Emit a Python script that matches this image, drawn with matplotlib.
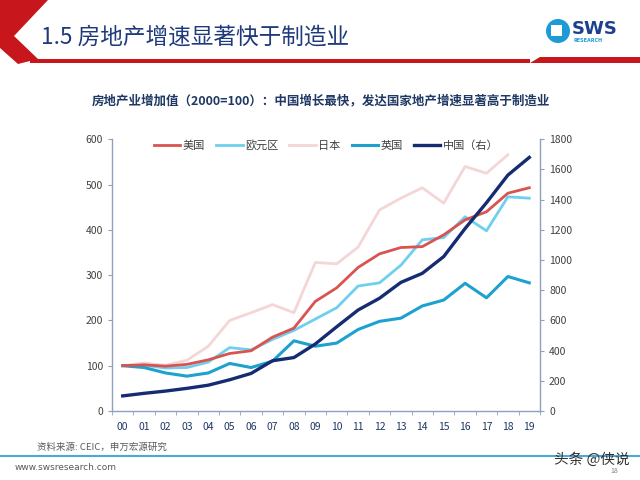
import matplotlib
matplotlib.use('Agg')
import matplotlib.pyplot as plt
import numpy as np
from matplotlib.patches import Polygon, Circle, Rectangle

plt.rcParams['font.family'] = ['Noto Sans CJK SC', 'DejaVu Sans']

# --- data (2000 = 100) ---
years = ['00', '01', '02', '03', '04', '05', '06', '07', '08', '09',
         '10', '11', '12', '13', '14', '15', '16', '17', '18', '19']
us    = [100, 102, 99, 103, 113, 127, 133, 163, 183, 242,
         272, 317, 347, 361, 363, 389, 422, 440, 481, 493]
euro  = [100, 101, 95, 96, 108, 140, 135, 158, 178, 203,
         228, 276, 283, 322, 378, 383, 429, 398, 473, 470]
japan = [100, 106, 101, 112, 143, 200, 217, 235, 217, 328,
         325, 362, 444, 470, 493, 459, 540, 525, 566, np.nan]
uk    = [100, 96, 84, 77, 84, 105, 96, 110, 155, 143,
         150, 180, 198, 205, 232, 245, 282, 250, 297, 283]
china = [100, 117, 132, 150, 171, 207, 249, 333, 354, 444,
         558, 669, 747, 852, 912, 1023, 1209, 1380, 1563, 1680]

left_ticks  = [0, 100, 200, 300, 400, 500, 600]
right_ticks = [0, 200, 400, 600, 800, 1000, 1200, 1400, 1600, 1800]

# --- colours ---
RED    = '#D9534F'
EURO   = '#6FCFEF'
JAPAN  = '#F4D6D6'
UKC    = '#1DA1CF'
CHINA  = '#162C72'
NAVY   = '#1F3A7A'
TXT    = '#404040'
SPINE  = '#8EA2BD'
HDRRED = '#C8161D'

W, H = 640, 480
fig = plt.figure(figsize=(6.4, 4.8), dpi=100)
fig.patch.set_facecolor('white')

# page decoration layer (pixel coords)
bg = fig.add_axes([0, 0, 1, 1])
bg.set_xlim(0, W)
bg.set_ylim(H, 0)
bg.axis('off')

# red chevron + header rule
bg.add_patch(Polygon([(0, 0), (48, 0), (14, 36), (38, 59), (18, 64), (0, 48)],
                     closed=True, facecolor=HDRRED, edgecolor='none'))
bg.add_patch(Rectangle((30, 59), 500, 4, facecolor=HDRRED, edgecolor='none'))
bg.add_patch(Polygon([(530, 63), (540, 57), (640, 57), (640, 63)],
                     closed=True, facecolor=HDRRED, edgecolor='none'))

bg.text(41, 37, '1.5 房地产增速显著快于制造业', fontsize=16.3, color=NAVY,
        va='center', ha='left')

# logo
bg.add_patch(Circle((558, 31), 12, facecolor='#1E9BD7', edgecolor='none'))
bg.add_patch(Rectangle((551, 25), 11, 11, facecolor='white', edgecolor='none'))
bg.text(572, 29, 'SWS', fontsize=13, fontweight='bold', color='#1C3F8F',
        va='center', ha='left', family='DejaVu Sans')
bg.text(573, 40, 'RESEARCH', fontsize=3.5, fontweight='bold', color='#1E9BD7',
        va='center', ha='left', family='DejaVu Sans')

bg.text(321, 101, '房地产业增加值（2000=100）：中国增长最快，发达国家地产增速显著高于制造业',
        fontsize=9, fontweight='bold', color='#1F3864', ha='center', va='center')

# footer
bg.text(37, 447, '资料来源: CEIC，申万宏源研究', fontsize=6.8, color='#595959',
        ha='left', va='center')
bg.plot([0, W], [456, 456], color='#4BA9D6', lw=1.5)
bg.text(15, 467, 'www.swsresearch.com', fontsize=6.5, color='#595959',
        ha='left', va='center', family='DejaVu Sans')
bg.text(614, 471, '18', fontsize=5, color='#808080', ha='center', va='center')
bg.text(592, 460, '头条 @侠说', fontsize=10.5, color='#333333', ha='center',
        va='center')

# chart
ax = fig.add_axes([112 / W, 1 - 411 / H, (540 - 112) / W, (411 - 139.3) / H])
ax2 = ax.twinx()
x = np.arange(len(years))

ax.plot(x, us, color=RED, lw=2.0, label='美国', zorder=4)
ax.plot(x, euro, color=EURO, lw=2.0, label='欧元区', zorder=3)
ax.plot(x, japan, color=JAPAN, lw=2.0, label='日本', zorder=2)
ax.plot(x, uk, color=UKC, lw=2.2, label='英国', zorder=3)
ax2.plot(x, china, color=CHINA, lw=2.4, label='中国（右）', zorder=5)

ax.set_xlim(-0.5, len(years) - 0.5)
ax.set_ylim(0, 600)
ax2.set_ylim(0, 1800)
ax.set_yticks(left_ticks)
ax2.set_yticks(right_ticks)
ax.set_xticks(x)
ax.set_xticklabels(years)
ax.set_xticks(np.arange(-0.5, len(years), 1), minor=True)

for a in (ax, ax2):
    for s in a.spines.values():
        s.set_color(SPINE)
        s.set_linewidth(1.0)
    a.spines['top'].set_visible(False)
ax.spines['right'].set_visible(False)
ax2.spines['left'].set_visible(False)
ax2.spines['bottom'].set_visible(False)

ax.tick_params(axis='y', labelsize=7.5, colors=SPINE, labelcolor=TXT, length=3,
               direction='out')
ax2.tick_params(axis='y', labelsize=7.5, colors=SPINE, labelcolor=TXT, length=3,
                direction='out')
ax.tick_params(axis='x', which='major', length=0, labelsize=7.5,
               labelcolor='#1F3864', pad=8)
ax.tick_params(axis='x', which='minor', length=3, color=SPINE)

h1, l1 = ax.get_legend_handles_labels()
h2, l2 = ax2.get_legend_handles_labels()
ax2.legend(h1 + h2, l1 + l2, loc='upper center', ncol=5, frameon=False,
           fontsize=8, handlelength=2.4, columnspacing=1.0, handletextpad=0.2,
           bbox_to_anchor=(0.5, 1.035), labelcolor=TXT)

plt.savefig('out.png', dpi=100, facecolor='white')
